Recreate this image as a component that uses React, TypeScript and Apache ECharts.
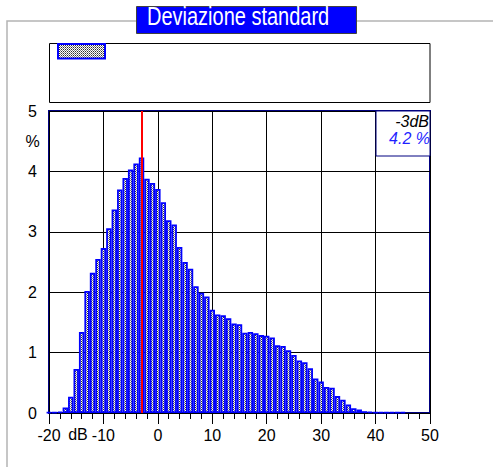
import React, { useEffect, useRef } from "react";
import * as echarts from "echarts";

// Histogram bin centres (dB) and their share (%)
const binCentersDb = [
  -20, -19, -18, -17, -16, -15, -14, -13, -12, -11, -10, -9, -8, -7, -6, -5, -4, -3, -2, -1,
  0, 1, 2, 3, 4, 5, 6, 7, 8, 9, 10, 11, 12, 13, 14, 15, 16, 17, 18, 19,
  20, 21, 22, 23, 24, 25, 26, 27, 28, 29, 30, 31, 32, 33, 34, 35, 36, 37, 38, 39,
  40, 41, 42, 43, 44, 45,
];
const percentValues = [
  0.01, 0.01, 0.02, 0.09, 0.27, 0.73, 1.34, 2.02, 2.32, 2.55, 2.73, 3.06, 3.37, 3.7, 3.89, 4.03, 4.13, 4.23, 3.88, 3.81,
  3.71, 3.49, 3.19, 3.12, 2.75, 2.5, 2.39, 2.1, 1.99, 1.93, 1.71, 1.63, 1.62, 1.57, 1.48, 1.47, 1.33, 1.34, 1.32, 1.29,
  1.28, 1.25, 1.12, 1.11, 1.04, 0.96, 0.87, 0.84, 0.74, 0.57, 0.52, 0.43, 0.42, 0.28, 0.22, 0.14, 0.08, 0.06, 0.03, 0.02,
  0.01, 0.01, 0.01, 0.01, 0.01, 0.01,
];
const xTickLabels = ["-20", "-10", "0", "10", "20", "30", "40", "50"];
const yTickLabels = ["0", "1", "2", "3", "4", "5"];
const peakDb = [-3];
const peakPercent = [4.2];
const titleText = "Deviazione standard";

function makePattern(): HTMLCanvasElement {
  const c = document.createElement("canvas");
  c.width = 2;
  c.height = 2;
  const ctx = c.getContext("2d")!;
  ctx.fillStyle = "#ffffff";
  ctx.fillRect(0, 0, 2, 2);
  ctx.fillStyle = "#808080";
  ctx.fillRect(0, 0, 1, 1);
  ctx.fillStyle = "#303030";
  ctx.fillRect(1, 1, 1, 1);
  return c;
}

export default function App() {
  const ref = useRef<HTMLDivElement>(null);
  useEffect(() => {
    if (!ref.current) return;
    const chart = echarts.init(ref.current, undefined, { renderer: "svg" });
    const pattern = { image: makePattern(), repeat: "repeat" as const };
    const font = "Liberation Sans, Arial, sans-serif";
    const data = binCentersDb.map((d, i) => [d, percentValues[i]]);

    chart.setOption({
      animation: false,
      backgroundColor: "#ffffff",
      grid: {
        left: 49,
        right: 63,
        top: 111,
        bottom: 54,
        show: true,
        borderColor: "#000080",
        borderWidth: 2,
        backgroundColor: "transparent",
      },
      xAxis: {
        type: "value",
        min: -20,
        max: 50,
        interval: 10,
        axisLine: { show: true, onZero: false, lineStyle: { color: "#000000", width: 1 } },
        axisTick: { show: true, length: 11, lineStyle: { color: "#000000" } },
        minorTick: { show: true, splitNumber: 5, length: 6, lineStyle: { color: "#000000" } },
        splitLine: { show: true, lineStyle: { color: "#000000", width: 1 } },
        axisLabel: {
          fontFamily: font,
          fontSize: 16,
          color: "#000000",
          margin: 14,
          formatter: (v: number) => {
            const idx = Math.round((v + 20) / 10);
            return xTickLabels[idx] ?? String(v);
          },
        },
      },
      yAxis: {
        type: "value",
        min: 0,
        max: 5,
        interval: 1,
        axisLine: { show: false },
        axisTick: { show: true, length: 11, lineStyle: { color: "#000000" } },
        splitLine: { show: true, lineStyle: { color: "#000000", width: 1 } },
        axisLabel: {
          fontFamily: font,
          fontSize: 16,
          color: "#000000",
          margin: 12,
          formatter: (v: number) => yTickLabels[Math.round(v)] ?? String(v),
        },
      },
      series: [
        {
          type: "bar",
          data,
          barWidth: "100%",
          clip: true,
          itemStyle: {
            color: pattern,
            borderColor: "#0000ff",
            borderWidth: 1.8,
          },
          emphasis: { disabled: true },
          markLine: {
            silent: true,
            symbol: ["none", "none"],
            label: { show: false },
            lineStyle: { color: "#ff0000", width: 2, type: "solid" },
            data: [{ xAxis: peakDb[0] }],
          },
        },
      ],
      graphic: [
        {
          type: "rect",
          z: 50,
          shape: { x: 7, y: 21, width: 520, height: 480 },
          style: { fill: "none", stroke: "#b4b4b4", lineWidth: 1.5 },
          silent: true,
        },
        {
          type: "rect",
          z: 60,
          shape: { x: 136.5, y: 6.5, width: 220, height: 27 },
          style: { fill: "#0000ff", stroke: "#404040", lineWidth: 1 },
          silent: true,
        },
        {
          type: "text",
          z: 61,
          x: 147,
          y: 16.5,
          scaleX: 0.8,
          style: {
            text: titleText,
            fill: "#ffffff",
            font: `25px ${font}`,
            textAlign: "left",
            textVerticalAlign: "middle",
          },
          silent: true,
        },
        {
          type: "rect",
          z: 60,
          shape: { x: 49.5, y: 43.5, width: 380.5, height: 59 },
          style: { fill: "none", stroke: "#000000", lineWidth: 1 },
          silent: true,
        },
        {
          type: "rect",
          z: 61,
          shape: { x: 58, y: 44, width: 47, height: 14.5 },
          style: { fill: pattern as any, stroke: "#0000ff", lineWidth: 2 },
          silent: true,
        },
        {
          type: "rect",
          z: 60,
          shape: { x: 376, y: 111, width: 54, height: 45 },
          style: { fill: "#ffffff", stroke: "#000080", lineWidth: 1 },
          silent: true,
        },
        {
          type: "text",
          z: 61,
          x: 429,
          y: 121,
          style: {
            text: `${peakDb[0]}dB`,
            fill: "#000000",
            font: `italic 16px ${font}`,
            textAlign: "right",
            textVerticalAlign: "middle",
          },
          silent: true,
        },
        {
          type: "text",
          z: 61,
          x: 430,
          y: 138,
          style: {
            text: `${peakPercent[0]} %`,
            fill: "#1f1fff",
            font: `italic 16px ${font}`,
            textAlign: "right",
            textVerticalAlign: "middle",
          },
          silent: true,
        },
        {
          type: "text",
          z: 61,
          x: 32.5,
          y: 141,
          style: {
            text: "%",
            fill: "#000000",
            font: `16px ${font}`,
            textAlign: "center",
            textVerticalAlign: "middle",
          },
          silent: true,
        },
        {
          type: "text",
          z: 61,
          x: 78,
          y: 434,
          style: {
            text: "dB",
            fill: "#000000",
            font: `16px ${font}`,
            textAlign: "center",
            textVerticalAlign: "middle",
          },
          silent: true,
        },
      ],
    });
    return () => chart.dispose();
  }, []);
  return (
    <div
      ref={ref}
      style={{ position: "absolute", left: 0, top: 0, width: 493, height: 467 }}
    />
  );
}
